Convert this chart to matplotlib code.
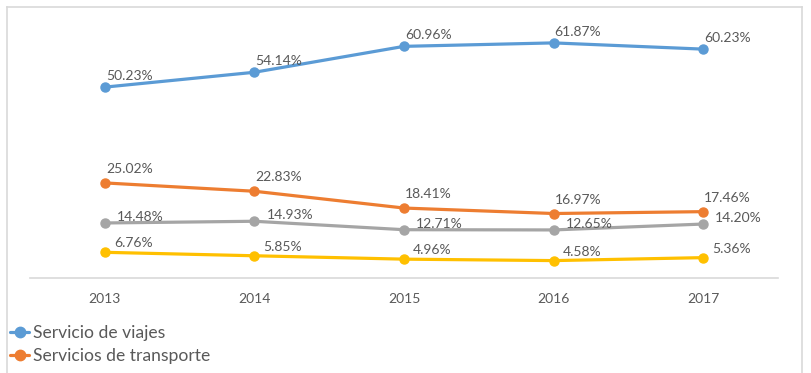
import matplotlib.pyplot as plt
from matplotlib.lines import Line2D

years = ['2013', '2014', '2015', '2016', '2017']
viajes = [50.23, 54.14, 60.96, 61.87, 60.23]
transporte = [25.02, 22.83, 18.41, 16.97, 17.46]
serie_gris = [14.48, 14.93, 12.71, 12.65, 14.20]
serie_amarilla = [6.76, 5.85, 4.96, 4.58, 5.36]

legend_labels = ['Servicio de viajes', 'Servicios de transporte']

plt.rcParams['font.family'] = ['Lato', 'DejaVu Sans']
text_color = '#595959'

fig = plt.figure(figsize=(8.11, 3.73), dpi=100)
ax = fig.add_axes([30 / 811, 95 / 373, 748 / 811, 266 / 373])

# (values, colour, label dx, label dy) - offsets in pixels
series = [
    (viajes, '#5B9BD5', 1, 11),
    (transporte, '#ED7D31', 1, 14),
    (serie_gris, '#A5A5A5', 12, 6),
    (serie_amarilla, '#FFC000', 9, 9),
]

x = list(range(len(years)))
handles = []
for values, color, dx, dy in series:
    line, = ax.plot(x, values, color=color, lw=2.3, marker='o', ms=6.5,
                    solid_capstyle='round')
    handles.append(line)
    for xi, v in zip(x, values):
        ax.annotate(f'{v:.2f}%', (xi, v), xytext=(dx, dy),
                    textcoords='offset pixels', ha='left', va='center',
                    fontsize=10, color=text_color)

ax.set_xlim(-0.5, len(years) - 0.5)
ax.set_ylim(0, 70)
ax.set_xticks(x)
ax.set_xticklabels(years, fontsize=10, color=text_color)
ax.tick_params(axis='x', length=0, pad=11)
ax.set_yticks([])
for side in ['top', 'right', 'left']:
    ax.spines[side].set_visible(False)
ax.spines['bottom'].set_color('#D9D9D9')
ax.spines['bottom'].set_linewidth(1.2)

fig.legend(handles[:2], legend_labels, loc='upper left',
           bbox_to_anchor=(10 / 811, 1 - 325 / 373), frameon=False,
           fontsize=12.6, labelcolor=text_color, handlelength=1.1,
           handletextpad=0.2, labelspacing=0.4, borderpad=0,
           borderaxespad=0, markerscale=1.15)

# chart frame (cut off at the bottom of the image)
frame = dict(color='#D9D9D9', lw=1.2, transform=fig.transFigure)
fig.add_artist(Line2D([6.5 / 811, 6.5 / 811], [0, 1 - 6.5 / 373], **frame))
fig.add_artist(Line2D([6.5 / 811, 802 / 811], [1 - 6.5 / 373, 1 - 6.5 / 373], **frame))
fig.add_artist(Line2D([802 / 811, 802 / 811], [0, 1 - 6.5 / 373], **frame))

fig.savefig('out.png', dpi=100)
